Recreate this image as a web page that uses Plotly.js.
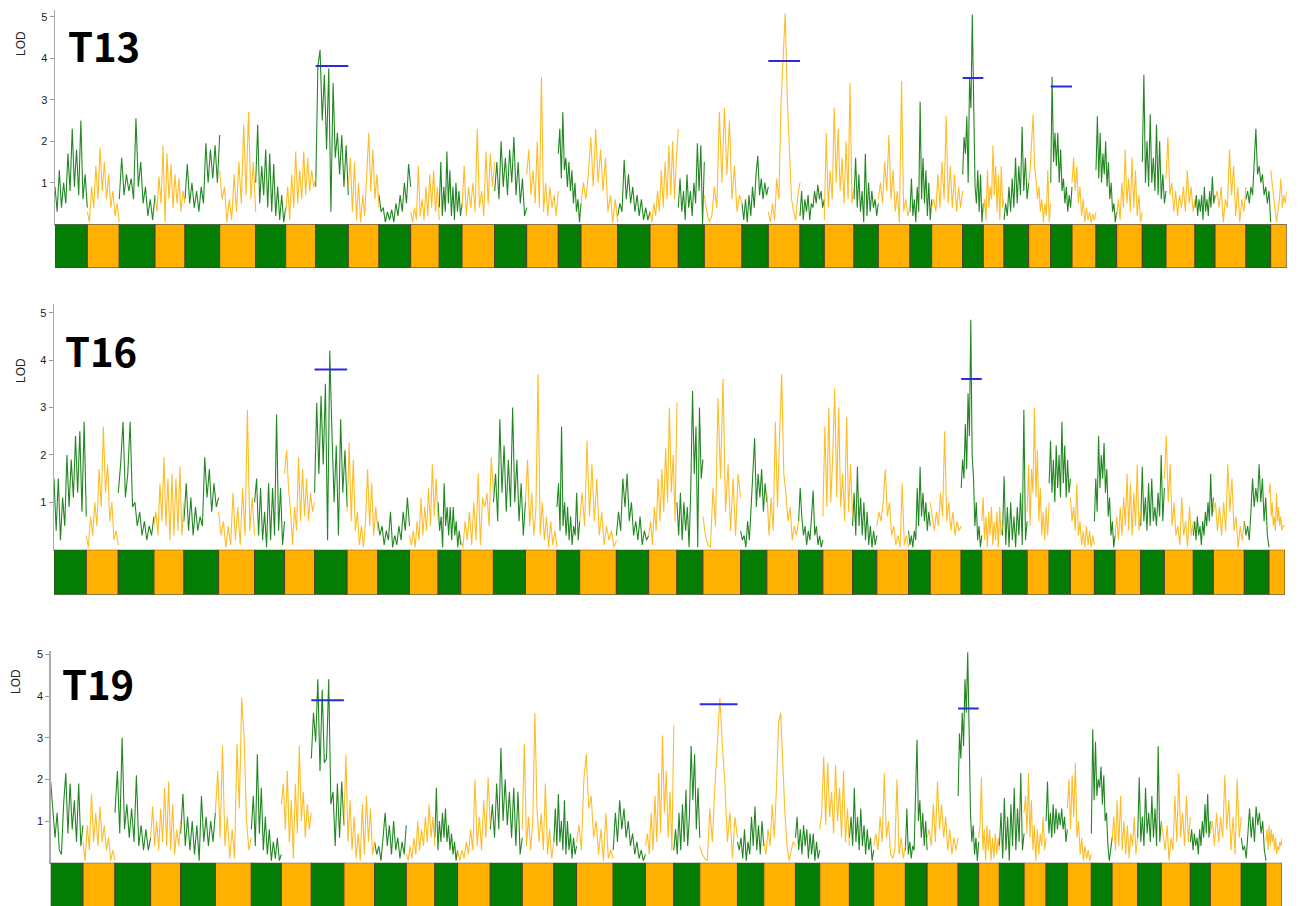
<!DOCTYPE html>
<html>
<head>
<meta charset="utf-8">
<script src="https://cdn.plot.ly/plotly-3.0.1.min.js"></script>
<style>html,body{margin:0;padding:0;background:#fff}#chart{width:1301px;height:906px}</style>
</head>
<body>
<div id="chart"></div>
<script>
// Chromosome lengths (genetic map units), 44 linkage groups, alternating colours
const chrLen = [32.3, 32, 35.7, 30, 34.7, 36, 30, 30, 32.6, 30.7, 31.7, 28.6, 22.7, 32.7, 32, 31.6, 22.7, 36.7, 32.3, 28.3, 26, 37.7, 26.3, 31.7, 24.3, 29.7, 24.3, 31.7, 21.7, 31, 20.6, 20.7, 24.7, 22, 21.3, 24, 20.7, 25.6, 23.7, 29, 20, 31, 24.7, 16];

const panelNames = ["T13", "T16", "T19"];

// LOD profiles, one list of values per chromosome
const lodT13 = [
[0.9,0.3,1.3,0.4,1.0,0.5,1.7,0.8,2.3,0.9,1.8,0.7,2.5,0.6,1.2,0.4],
[0.3,0.05,0.9,0.4,1.4,0.6,1.85,0.8,1.5,0.6,1.2,0.4,0.8,0.2,0.5,0.05],
[0.6,1.6,0.7,1.2,0.8,1.1,0.6,2.55,0.9,1.5,0.5,0.9,0.2,0.6,0.1,0.7],
[0.7,0.3,1.15,0.5,1.9,0.05,1.7,0.6,1.45,0.4,1.2,0.5,1.1,0.3,0.8,0.5],
[0.6,1.45,0.5,1.0,0.4,0.8,0.3,0.9,0.5,1.95,1.0,1.8,1.1,1.9,1.0,2.15],
[1.3,0.6,0.9,0.05,0.6,0.1,1.2,0.3,1.5,0.5,2.4,0.7,2.7,0.6,1.5,0.3],
[1.0,2.4,0.5,1.4,0.7,1.8,0.4,1.7,0.3,1.45,0.2,0.9,0.1,0.7,0.05,0.4],
[0.3,0.9,0.1,1.2,0.4,1.75,0.5,1.3,0.6,1.75,0.7,1.6,0.8,1.3,0.9,1.1],
[0.9,3.8,4.2,2.5,3.6,1.8,3.75,0.3,3.4,1.6,2.2,1.2,2.15,0.9,1.9,0.7],
[0.9,1.6,0.3,1.5,0.1,1.0,0.05,0.7,0.2,1.3,2.2,0.8,1.8,0.6,1.2,0.4],
[0.7,0.3,0.4,0.05,0.3,0.1,0.35,0.05,0.5,0.2,0.7,0.3,1.0,0.5,1.45,0.9],
[0.3,0.05,0.4,0.1,1.4,0.2,0.6,0.1,0.9,0.2,1.2,0.4,1.3,0.3,0.9,0.1],
[0.4,1.5,0.2,0.9,0.3,1.75,0.5,1.3,0.2,0.9,0.1,1.0,0.3,0.8,0.2,0.5],
[0.4,1.4,0.2,0.9,0.4,1.0,0.3,2.3,0.4,0.8,0.2,1.75,0.5,1.7,0.9,1.5],
[0.8,1.5,0.6,2.0,0.9,1.6,0.7,1.8,1.0,2.1,0.7,1.5,0.5,1.1,0.2,0.4],
[1.2,1.8,0.7,1.3,0.5,2.0,0.4,3.55,0.3,1.0,0.2,0.9,0.4,0.7,0.2,0.8],
[1.7,2.3,1.1,2.7,1.3,1.6,0.9,1.5,0.8,1.3,0.5,1.0,0.3,0.6,0.05,0.5],
[0.5,1.0,0.6,1.2,2.1,0.9,2.3,1.0,1.8,0.8,1.6,0.3,0.7,0.05,0.6,0.05],
[0.2,0.5,0.3,1.55,0.6,1.2,0.5,0.9,0.3,0.7,0.2,0.6,0.1,0.4,0.1,0.3],
[0.3,0.05,0.5,0.2,0.8,0.3,1.3,0.4,1.5,0.6,1.9,0.7,2.0,0.6,1.6,2.3],
[0.4,1.1,0.3,0.8,0.1,1.2,0.4,0.8,0.2,1.0,0.5,1.95,0.8,1.9,0.0,1.5],
[0.7,0.3,0.05,0.2,0.9,0.4,2.7,1.0,2.8,1.2,2.5,0.6,1.4,0.3,0.7,0.5],
[0.5,0.1,0.6,0.05,0.7,0.2,0.9,0.4,1.2,1.65,0.7,1.1,0.6,1.0,0.7,0.9],
[0.3,0.05,0.5,0.1,1.1,0.6,2.9,4.1,5.08,3.0,1.7,0.6,0.3,0.1,0.7,1.0],
[0.2,0.8,0.1,0.6,0.3,0.7,0.1,0.5,0.4,0.8,0.5,0.95,0.6,0.8,0.4,0.6],
[0.1,2.2,0.4,1.3,0.6,2.8,1.0,2.3,0.8,1.6,0.5,2.0,0.6,3.4,0.5,0.9],
[0.6,1.6,0.4,1.2,0.3,0.8,0.05,1.7,0.2,1.0,0.3,0.8,0.4,0.6,0.2,0.5],
[0.6,1.0,0.5,1.5,0.8,2.15,0.6,1.3,0.3,0.8,0.05,3.45,0.3,0.6,0.2,0.4],
[0.3,1.1,0.2,0.6,0.05,0.9,0.3,2.95,0.6,1.6,0.5,1.3,0.2,1.0,0.1,0.6],
[0.4,0.6,0.3,1.2,0.4,1.5,0.6,2.6,0.5,1.4,0.4,1.2,0.3,0.9,0.4,0.8],
[1.2,2.1,1.7,2.6,1.0,3.5,2.8,5.05,2.9,0.9,0.5,1.3,0.3,1.2,0.05,0.5],
[0.3,0.6,0.1,1.3,0.4,0.9,0.6,1.9,0.7,1.4,0.3,1.2,0.1,1.4,0.4,0.6],
[0.1,0.5,0.2,0.9,0.3,1.1,0.4,1.6,0.5,1.4,0.7,2.35,0.8,1.6,0.6,1.0],
[1.0,1.3,2.0,2.65,1.4,1.1,0.6,0.9,0.3,0.6,0.05,0.5,0.2,1.3,0.05,0.5],
[1.0,3.55,1.5,2.2,1.4,2.2,1.0,1.8,0.8,1.1,0.5,0.9,0.3,0.7,0.4,0.9],
[1.0,1.6,0.8,1.4,0.5,0.9,0.2,0.6,0.05,0.4,0.1,0.3,0.05,0.25,0.1,0.3],
[1.3,2.6,1.1,2.2,1.0,1.7,1.2,2.0,0.9,1.5,0.6,1.0,0.3,0.5,0.05,0.3],
[0.2,0.6,0.1,1.0,0.4,1.8,0.5,1.1,0.3,1.6,0.4,1.3,0.2,0.7,0.05,0.3],
[1.5,3.6,1.0,2.0,0.9,2.65,1.0,1.6,0.8,2.4,0.7,2.0,0.6,1.2,0.5,0.8],
[1.1,2.1,0.7,1.0,0.3,0.8,0.2,0.7,0.4,0.9,0.3,1.3,0.5,0.9,0.3,0.6],
[0.4,0.7,0.2,0.6,0.3,0.7,0.1,0.9,0.3,0.6,0.2,0.8,0.4,1.15,0.5,0.7],
[0.6,0.8,0.4,0.9,0.05,0.6,0.4,1.8,0.7,1.4,0.2,0.9,0.05,0.6,0.3,0.9],
[0.6,0.8,0.5,0.9,0.7,1.6,2.3,1.2,1.4,1.0,1.2,0.7,0.9,0.5,0.8,0.05],
[1.3,1.0,0.8,0.4,0.05,0.3,0.6,1.1,0.4,0.7,0.5,0.8]
];

const lodT16 = [
[1.5,0.4,1.5,0.2,1.1,0.5,2.0,0.9,1.9,1.1,2.4,1.2,2.5,0.8,2.7,0.7],
[0.3,0.05,0.7,0.3,1.0,0.5,1.7,0.9,2.6,1.2,1.8,0.6,1.0,0.2,0.4,0.1],
[1.2,1.8,2.7,1.1,1.6,2.7,0.9,1.0,0.5,0.8,0.3,0.6,0.2,0.5,0.3,0.7],
[0.5,0.8,0.3,1.4,0.6,1.95,0.5,1.5,0.2,1.6,0.3,1.5,0.4,1.75,0.3,1.0],
[0.6,1.4,0.4,1.1,0.3,0.9,0.4,0.7,0.5,1.95,1.1,1.7,0.8,1.4,0.9,1.1],
[0.8,0.3,0.6,0.05,0.5,0.1,1.2,0.2,0.9,0.1,1.3,0.3,2.95,0.4,1.1,0.3],
[1.0,1.5,0.3,1.3,0.2,0.8,0.05,1.4,0.2,1.3,0.3,2.85,0.4,1.3,0.1,0.6],
[1.6,2.1,1.3,0.8,0.1,0.9,0.4,1.95,0.6,1.7,0.7,1.5,0.6,1.2,0.8,1.0],
[1.2,3.1,1.6,3.25,1.8,3.5,0.2,4.2,2.5,1.0,2.2,0.3,2.75,1.2,2.1,0.9],
[0.8,2.25,0.6,1.9,0.4,0.8,0.1,0.5,0.05,0.6,1.7,0.5,1.4,0.3,0.9,0.4],
[0.6,0.3,0.5,0.1,0.4,0.2,0.8,0.05,0.3,0.1,0.5,0.2,0.8,0.4,1.1,0.5],
[0.3,0.1,0.4,0.05,0.6,0.2,1.1,0.3,0.9,0.4,1.3,0.5,1.8,0.7,1.5,0.6],
[1.0,0.4,0.7,0.05,1.4,0.5,0.9,0.3,0.9,0.2,0.9,0.3,0.6,0.05,0.4,0.1],
[0.2,0.05,0.6,0.2,0.8,0.1,1.0,0.2,1.6,0.1,1.1,0.9,1.2,0.5,1.95,1.2],
[1.0,1.6,0.6,2.75,1.2,2.2,0.8,1.9,0.9,3.0,1.0,1.9,0.6,1.4,0.3,1.0],
[1.0,1.9,0.5,1.2,0.3,0.9,3.7,0.3,1.0,0.2,0.7,0.05,0.6,0.1,0.4,0.05],
[0.9,1.4,0.4,2.6,0.5,1.0,0.3,0.9,0.2,0.7,0.1,0.5,0.3,1.2,0.2,0.6],
[0.6,1.2,0.5,2.3,0.7,1.8,0.6,1.5,0.3,0.8,0.1,0.5,0.2,0.4,0.05,0.2],
[0.3,0.8,0.4,1.5,0.9,1.6,0.6,1.0,0.3,0.6,0.2,0.7,0.1,0.4,0.2,0.3],
[0.3,0.6,0.1,0.9,0.4,1.5,0.6,1.7,0.8,2.15,1.0,3.0,1.2,2.0,0.6,3.1],
[1.0,0.3,1.2,0.2,1.0,0.4,0.9,0.05,1.3,3.35,1.6,2.6,0.05,3.0,1.5,1.9],
[0.7,0.3,0.1,0.05,1.3,0.5,3.2,1.5,3.6,0.8,1.8,0.4,1.5,0.3,1.6,1.1],
[0.4,0.2,0.3,0.05,0.6,0.2,0.9,1.5,2.35,0.9,1.6,1.1,1.7,0.8,1.4,1.0],
[1.2,0.3,1.1,0.4,2.7,0.9,2.4,3.7,1.6,1.2,0.6,0.9,0.2,0.5,0.3,0.6],
[0.6,1.3,0.7,0.3,0.5,0.1,0.4,0.2,0.7,1.25,0.3,0.5,0.1,0.3,0.05,0.2],
[0.7,2.6,0.9,3.0,1.0,2.0,3.4,1.1,3.0,0.9,1.6,0.6,2.8,0.8,1.8,0.7],
[0.5,1.2,0.3,1.75,0.5,1.1,0.3,1.0,0.2,0.8,0.1,0.5,0.05,0.4,0.1,0.3],
[0.5,0.8,0.6,1.0,1.7,0.7,1.0,0.3,0.5,0.1,0.3,0.05,1.4,0.1,0.3,0.05],
[0.4,0.1,0.3,0.05,0.4,0.2,1.3,0.5,1.75,0.7,1.2,0.6,1.0,0.4,0.8,0.5],
[1.0,0.7,0.4,0.8,0.5,1.2,0.7,2.5,0.6,1.0,0.4,0.8,0.3,0.6,0.4,0.5],
[1.3,1.9,1.5,2.65,1.7,3.3,2.4,4.85,2.0,1.5,0.5,1.0,0.2,0.5,0.05,0.3],
[0.6,1.1,0.2,0.7,0.05,0.8,0.3,0.9,0.1,0.6,0.2,0.8,0.05,0.9,0.3,0.5],
[0.3,1.55,0.1,0.9,0.05,1.0,0.2,0.7,0.05,0.9,0.3,1.2,0.1,2.95,0.2,0.6],
[0.8,1.8,0.5,1.7,1.2,3.0,1.1,2.1,0.6,1.3,0.3,0.8,0.2,0.9,0.3,1.0],
[1.4,2.3,1.2,1.9,1.0,2.2,1.3,2.0,1.1,2.7,1.4,2.2,1.1,1.9,1.2,1.5],
[1.1,0.6,0.9,0.4,1.4,0.3,0.6,0.1,0.4,0.05,0.5,0.1,0.4,0.05,0.3,0.1],
[0.6,1.5,0.8,2.4,1.3,2.0,1.5,2.25,1.2,1.7,0.7,1.1,0.3,0.6,0.05,0.3],
[0.3,0.7,0.2,0.9,0.3,1.1,0.5,1.6,0.4,1.4,0.3,1.2,0.5,1.8,0.4,0.8],
[0.5,1.75,0.6,1.1,0.4,1.4,0.5,1.5,0.6,0.9,0.5,1.2,0.7,2.0,0.6,1.3],
[1.5,2.4,1.0,1.8,0.5,1.0,0.3,0.5,0.1,1.1,0.3,0.6,0.05,0.9,0.3,0.6],
[0.3,0.6,0.2,0.7,0.3,0.5,0.1,0.6,0.3,0.8,0.5,1.0,0.6,1.6,0.7,1.1],
[0.8,1.0,0.4,0.9,0.3,1.0,0.4,1.8,0.8,1.5,0.4,0.7,0.05,0.5,0.2,0.6],
[0.6,0.3,0.5,0.2,0.8,1.5,0.9,1.3,1.0,1.8,1.0,1.5,0.6,1.1,0.3,0.05],
[1.2,1.4,0.7,1.0,0.5,0.7,0.4,1.2,0.6,0.9,0.5,0.7,0.4,0.5,0.5,0.5]
];

const lodT19 = [
[1.95,1.3,0.6,1.2,0.3,0.2,1.4,2.15,0.7,1.9,0.8,1.5,0.5,1.9,0.4,0.9],
[0.5,0.05,0.9,0.3,1.65,0.5,1.2,0.4,1.35,0.5,0.9,0.3,0.6,0.05,0.3,0.05],
[1.2,2.2,0.7,3.0,0.8,1.4,0.6,1.3,0.5,2.1,0.4,0.9,0.3,0.8,0.3,0.6],
[0.6,1.35,0.4,1.0,0.3,1.3,0.5,1.8,0.4,1.95,0.3,1.4,0.2,0.8,0.4,1.0],
[0.7,1.65,0.4,1.1,0.3,1.0,0.2,0.9,0.05,1.6,0.5,1.1,0.4,1.0,0.5,1.2],
[1.2,2.2,0.6,2.8,0.4,1.1,0.1,0.8,0.1,2.85,1.3,3.95,3.0,1.0,0.3,0.6],
[0.8,1.6,0.4,2.6,0.7,1.8,0.3,1.1,0.2,0.8,0.05,0.5,0.1,0.6,0.05,0.2],
[1.4,1.9,0.8,2.2,0.5,1.5,0.1,1.9,0.7,2.8,1.0,1.7,0.6,1.4,0.8,1.2],
[2.5,3.6,2.9,4.4,2.2,4.15,2.4,2.5,4.4,1.4,1.7,0.4,1.9,0.6,1.95,0.9],
[0.9,2.6,0.5,1.5,0.3,1.1,0.1,0.7,0.05,1.4,0.2,1.6,0.5,1.3,0.2,0.5],
[0.5,0.2,0.4,0.05,0.6,1.2,0.4,0.9,0.2,1.0,0.3,0.6,0.1,0.5,0.2,0.9],
[0.2,0.05,0.4,0.1,0.6,0.2,1.0,0.3,0.8,0.4,1.1,0.5,1.4,0.6,1.1,0.4],
[0.6,1.8,0.3,1.0,0.5,1.2,0.6,1.3,0.5,0.9,0.3,0.7,0.2,0.5,0.05,0.3],
[0.3,0.05,0.3,0.1,0.5,0.2,0.8,0.3,2.0,0.4,1.1,0.3,1.5,0.6,2.05,0.9],
[0.8,1.4,0.6,1.9,0.8,2.75,1.0,2.0,0.9,1.7,0.6,1.8,0.4,1.7,0.2,0.6],
[0.8,2.85,0.4,1.1,0.3,1.0,3.6,1.3,0.5,1.2,0.3,1.9,0.2,0.8,0.1,0.5],
[0.5,1.3,0.4,1.65,0.5,1.0,0.3,1.5,0.2,1.0,0.3,0.7,0.1,0.6,0.2,0.4],
[0.5,0.9,0.3,2.0,2.6,1.3,1.6,0.6,1.0,0.2,0.8,0.05,1.2,0.1,0.3,0.1],
[0.3,1.2,0.5,1.5,0.8,1.3,0.6,1.0,0.4,0.7,0.2,0.5,0.1,0.3,0.05,0.2],
[0.4,0.7,0.2,1.2,0.3,1.6,0.5,2.15,0.7,3.05,1.2,2.2,0.6,1.7,0.3,3.3],
[0.3,0.8,0.2,1.2,0.3,1.4,0.5,1.75,0.4,1.1,2.8,1.5,2.6,0.8,1.8,0.6],
[0.4,0.2,0.1,0.05,1.3,0.5,1.8,3.0,3.95,2.8,1.9,0.5,1.2,0.1,1.1,0.6],
[0.5,0.3,0.6,0.1,0.8,0.05,0.5,0.2,1.1,0.4,1.35,0.3,0.9,0.2,1.0,0.4],
[0.5,0.2,0.8,0.4,1.4,0.6,1.8,3.35,3.6,2.3,1.2,0.4,0.05,0.3,0.5,0.4],
[0.6,1.1,0.3,0.8,0.2,0.9,0.4,0.8,0.1,0.7,0.2,0.7,0.05,0.5,0.1,0.3],
[0.8,1.2,2.55,0.9,2.4,1.1,1.7,0.7,2.35,1.0,1.8,0.6,2.2,0.5,1.3,0.4],
[0.6,1.1,0.4,1.8,0.5,1.1,0.3,1.3,0.4,0.9,0.2,0.8,0.3,0.6,0.05,0.3],
[0.4,0.7,0.3,1.1,0.5,2.15,0.6,1.0,0.2,0.1,0.3,2.0,0.2,0.6,0.1,0.4],
[0.3,1.3,0.2,0.5,0.1,0.4,0.3,1.7,2.95,1.0,1.5,0.6,1.2,0.4,1.0,0.3],
[0.6,0.8,0.4,1.4,0.5,1.95,0.8,1.4,0.6,1.1,0.3,0.8,0.2,0.6,0.3,0.6],
[1.6,3.1,2.5,3.6,2.8,4.4,3.6,5.05,3.2,1.2,0.5,0.9,0.2,0.6,0.05,0.5],
[0.6,0.9,2.05,0.3,0.8,0.05,0.9,0.3,0.8,0.05,0.6,0.1,0.7,0.2,0.6,0.3],
[0.4,1.2,0.1,1.55,0.3,1.1,0.05,1.4,0.4,1.8,0.3,1.3,0.5,2.15,0.3,0.7],
[1.2,1.6,0.7,2.15,0.6,1.5,0.3,0.9,0.05,0.8,0.2,0.7,0.4,1.1,0.3,0.6],
[1.0,1.95,0.7,1.2,0.6,1.4,0.7,1.3,0.8,1.2,0.9,1.3,0.8,1.1,0.5,0.8],
[1.3,2.0,0.8,2.1,1.1,2.4,0.6,1.0,0.2,0.6,0.05,0.4,0.1,0.3,0.05,0.2],
[0.7,3.2,1.5,2.9,1.6,2.0,1.8,2.3,1.4,2.1,1.0,1.2,0.4,0.05,0.3,0.6],
[0.5,1.1,0.3,1.5,0.4,1.6,0.3,1.0,0.2,0.9,0.1,0.7,0.4,1.1,0.2,0.6],
[0.6,2.05,0.5,1.1,0.4,1.8,0.7,1.2,0.5,1.6,0.6,1.3,0.4,2.8,0.5,1.0],
[1.0,0.7,0.3,0.9,0.05,0.6,0.3,1.6,0.5,2.15,0.6,1.2,0.4,1.6,0.5,1.1],
[0.5,0.8,0.3,0.7,0.4,0.6,0.2,0.8,0.4,1.0,0.6,1.4,0.7,1.65,0.6,1.0],
[0.7,1.0,0.4,1.2,0.5,1.1,0.6,2.1,0.8,1.5,0.3,1.1,0.2,2.0,0.6,1.1],
[0.6,0.3,0.4,0.1,0.7,1.3,0.6,1.1,0.5,1.35,0.9,1.2,0.7,1.0,0.3,0.05],
[0.5,0.8,0.3,0.9,0.4,0.8,0.5,0.7,0.3,0.6,0.2,0.4,0.3,0.5,0.4,0.6]
];

// Significance thresholds: chromosome number (1-based) and LOD value
const thrT13Chr = [9, 24, 31, 35];
const thrT13Val = [3.81, 3.93, 3.52, 3.32];
const thrT16Chr = [9, 31];
const thrT16Val = [3.80, 3.60];
const thrT19Chr = [9, 22, 31];
const thrT19Val = [3.90, 3.80, 3.70];

// ---------- drawing ----------
const GREEN = '#047d04', ORANGE = '#ffb000';
const LINE_GREEN = 'rgba(10,122,10,0.9)', LINE_ORANGE = 'rgba(255,176,0,0.85)';
const W = 1301, H = 906;
const total = chrLen.reduce((a, b) => a + b, 0);
const starts = [];
chrLen.reduce((acc, L) => { starts.push(acc); return acc + L; }, 0);

function lineTraces(lod, xa, ya) {
  const gx = [], gy = [], ox = [], oy = [];
  lod.forEach((vals, i) => {
    const tx = i % 2 === 0 ? gx : ox, ty = i % 2 === 0 ? gy : oy;
    const n = vals.length, S = starts[i], L = chrLen[i];
    vals.forEach((v, j) => { tx.push(S + L * j / (n - 1)); ty.push(v); });
    tx.push(null); ty.push(null);
  });
  const base = {type: 'scatter', mode: 'lines', xaxis: xa, yaxis: ya, hoverinfo: 'skip', connectgaps: false, showlegend: false};
  return [
    Object.assign({}, base, {x: gx, y: gy, line: {color: LINE_GREEN, width: 1.1}}),
    Object.assign({}, base, {x: ox, y: oy, line: {color: LINE_ORANGE, width: 1.1}})
  ];
}

function barTrace(xa, ya) {
  return {
    type: 'bar', xaxis: xa, yaxis: ya, hoverinfo: 'skip', showlegend: false,
    x: chrLen.map((L, i) => starts[i] + L / 2),
    y: chrLen.map(() => 1),
    width: chrLen,
    marker: {color: chrLen.map((L, i) => i % 2 === 0 ? GREEN : ORANGE), line: {color: '#4a4030', width: 1}}
  };
}

function thrTraces(chrs, vals, xa, ya) {
  return chrs.map((c, k) => ({
    type: 'scatter', mode: 'lines', xaxis: xa, yaxis: ya, hoverinfo: 'skip', showlegend: false,
    x: [starts[c - 1], starts[c - 1] + chrLen[c - 1]], y: [vals[k], vals[k]],
    line: {color: '#2a2ae0', width: 2}
  }));
}

const data = [
  ...lineTraces(lodT13, 'x', 'y'), barTrace('x', 'y4'), ...thrTraces(thrT13Chr, thrT13Val, 'x', 'y'),
  ...lineTraces(lodT16, 'x2', 'y2'), barTrace('x2', 'y5'), ...thrTraces(thrT16Chr, thrT16Val, 'x2', 'y2'),
  ...lineTraces(lodT19, 'x3', 'y3'), barTrace('x3', 'y6'), ...thrTraces(thrT19Chr, thrT19Val, 'x3', 'y3')
];

const px = v => v / W, py = v => 1 - v / H;
const xBase = {range: [0, total], showline: true, linecolor: '#aaaaaa', linewidth: 1.5, showticklabels: false,
  ticks: '', showgrid: false, zeroline: false, fixedrange: true};
const yBase = {tickvals: [1, 2, 3, 4, 5], ticks: 'outside', ticklen: 4, tickcolor: '#999999', tickwidth: 1,
  showline: true, linecolor: '#aaaaaa', linewidth: 1.5, showgrid: false, zeroline: false, fixedrange: true,
  tickfont: {family: 'Liberation Sans, Arial, sans-serif', size: 11, color: '#222222'}};
const yBar = {visible: false, range: [0, 1], fixedrange: true};

const layout = {
  width: W, height: H, margin: {l: 0, r: 0, t: 0, b: 0},
  paper_bgcolor: '#ffffff', plot_bgcolor: 'rgba(0,0,0,0)', showlegend: false, barmode: 'overlay',
  xaxis:  Object.assign({}, xBase, {domain: [px(55), px(1286.7)], anchor: 'y'}),
  xaxis2: Object.assign({}, xBase, {domain: [px(54), px(1285)], anchor: 'y2'}),
  xaxis3: Object.assign({}, xBase, {domain: [px(50.7), px(1282)], anchor: 'y3'}),
  yaxis:  Object.assign({}, yBase, {domain: [py(224.2), py(10)], range: [0, 5.161], anchor: 'x'}),
  yaxis2: Object.assign({}, yBase, {domain: [py(549.7), py(304)], range: [0, 5.184], anchor: 'x2'}),
  yaxis3: Object.assign({}, yBase, {domain: [py(862.7), py(651)], range: [0, 5.08], anchor: 'x3'}),
  yaxis4: Object.assign({}, yBar, {domain: [py(268), py(224.2)], anchor: 'x'}),
  yaxis5: Object.assign({}, yBar, {domain: [py(594.7), py(549.7)], anchor: 'x2'}),
  yaxis6: Object.assign({}, yBar, {domain: [0, py(862.7)], range: [0.04, 1], anchor: 'x3'}),
  annotations: [
    {text: panelNames[0], x: px(66), y: py(45)},
    {text: panelNames[1], x: px(63), y: py(349.5)},
    {text: panelNames[2], x: px(59.7), y: py(683)}
  ].map(a => Object.assign(a, {xref: 'paper', yref: 'paper', xanchor: 'left', yanchor: 'middle', showarrow: false,
    font: {family: 'Noto Sans CJK SC, Noto Sans, sans-serif', size: 40, color: '#000000', weight: 'bold'}}))
  .concat([
    {x: px(21), y: py(44)}, {x: px(21), y: py(371)}, {x: px(16), y: py(682)}
  ].map(a => Object.assign(a, {text: 'LOD', textangle: -90, xref: 'paper', yref: 'paper', xanchor: 'center',
    yanchor: 'middle', showarrow: false, font: {family: 'Liberation Sans, Arial, sans-serif', size: 12, color: '#222222'}})))
};

Plotly.newPlot('chart', data, layout, {displayModeBar: false, staticPlot: true});
</script>
</body>
</html>
